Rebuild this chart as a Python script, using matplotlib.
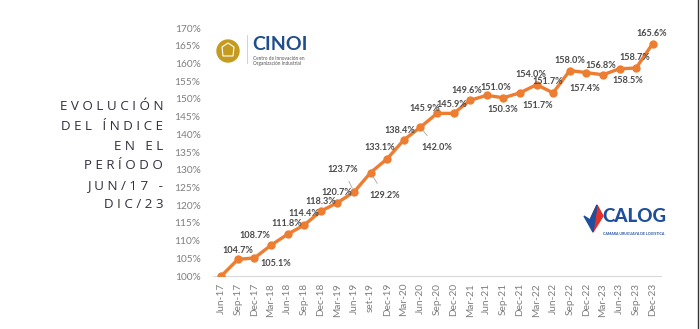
import matplotlib
matplotlib.use("Agg")
import matplotlib.pyplot as plt
from matplotlib.patches import Circle, Polygon
from matplotlib.lines import Line2D

# ---- data ----
periods = ["Jun-17", "Sep-17", "Dec-17", "Mar-18", "Jun-18", "Sep-18", "Dec-18",
           "Mar-19", "Jun-19", "set-19", "Dec-19", "Mar-20", "Jun-20", "Sep-20",
           "Dec-20", "Mar-21", "Jun-21", "Sep-21", "Dec-21", "Mar-22", "Jun-22",
           "Sep-22", "Dec-22", "Mar-23", "Jun-23", "Sep-23", "Dec-23"]
index_values = [100.0, 104.7, 105.1, 108.7, 111.8, 114.4, 118.3,
                120.7, 123.7, 129.2, 133.1, 138.4, 142.0, 145.9,
                145.9, 149.6, 151.0, 150.3, 151.7, 154.0, 151.7,
                158.0, 157.4, 156.8, 158.5, 158.7, 165.6]
y_ticks = list(range(100, 171, 5))
title_lines = ["EVOLUCIÓN", "DEL ÍNDICE", "EN EL", "PERÍODO", "JUN/17 -", "DIC/23"]

# label placement (pixel offsets from the point) and leader-line flags
label_offsets = [None, (0, 9), (21, -6), (-16, 10), (-1, 11), (0, 11), (0, 10),
                 (-1, 10), (-11, 23), (14, -23), (-7, 11), (-4, 9), (16, -20), (-12, 5),
                 (-2, 9), (-3, 10), (9, 8), (-1, -12), (18, -13), (-6, 10), (-5, 11),
                 (0, 10), (-2, -16), (-2, 9), (8, -12), (-1, 11), (-1, 10)]
leader = {8, 9, 12, 18, 24}

ORANGE = "#ED7D31"
W, H = 700, 329
fig = plt.figure(figsize=(7.0, 3.29), dpi=100)
fig.patch.set_facecolor("white")

left, right, bottom, top = 213, 661, 276, 28
ax = fig.add_axes([left / W, 1 - bottom / H, (right - left) / W, (bottom - top) / H])
x = list(range(len(periods)))
ax.plot(x, index_values, color=ORANGE, lw=2.4, marker="o", ms=5,
        mfc=ORANGE, mec=ORANGE, zorder=3, solid_capstyle="round")
ax.set_xlim(-0.5, len(periods) - 0.5)
ax.set_ylim(100, 170)
ax.set_yticks(y_ticks)
ax.set_yticklabels([f"{t}%" for t in y_ticks], family="Lato", fontsize=7.3, color="#7f7f7f")
ax.set_xticks(x)
ax.set_xticklabels(periods, rotation=90, family="Lato", fontsize=7.3, color="#7f7f7f")
ax.tick_params(axis="both", length=0)
ax.tick_params(axis="y", pad=9)
ax.tick_params(axis="x", pad=5)
for s in ["top", "right", "left"]:
    ax.spines[s].set_visible(False)
ax.spines["bottom"].set_color("#d9d9d9")
ax.spines["bottom"].set_linewidth(0.8)
ax.set_facecolor("none")

for i, (xv, v) in enumerate(zip(x, index_values)):
    off = label_offsets[i]
    if off is None:
        continue
    kw = {}
    if i in leader:
        kw["arrowprops"] = dict(arrowstyle="-", color="#a6a6a6", lw=0.6,
                                shrinkA=4, shrinkB=3)
    ax.annotate(f"{v:.1f}%", (xv, v), xytext=off, textcoords="offset pixels",
                ha="center", va="center", family="Lato", fontweight="bold",
                fontsize=6.6, color="#4a4a4a", zorder=4, **kw)

# ---- overlay in pixel coordinates for title, logos and border ----
ov = fig.add_axes([0, 0, 1, 1], zorder=-1)
ov.set_xlim(0, W)
ov.set_ylim(H, 0)
ov.axis("off")

for k, line in enumerate(title_lines):
    ov.text(163, 107 + k * 19.6, " ".join(line), ha="right", va="center",
            family="Open Sans", fontweight="medium", fontsize=9.6, color="#30303f")

# CINOI logo
ov.add_patch(Circle((228, 51), 11, color="#c49a1f"))
ov.add_patch(Polygon([(228, 43), (234, 47), (233, 56), (223, 56), (222, 47)],
                     closed=True, fill=False, ec="white", lw=0.8))
ov.add_line(Line2D([247, 247], [35, 63], color="#cccccc", lw=0.6))
ov.text(252, 44, "CINOI", ha="left", va="center", family="Lato",
        fontweight="bold", fontsize=14, color="#1f4e8c")
ov.text(253, 61, "Centro de Innovación en\nOrganización Industrial", ha="left",
        va="center", family="Lato", fontsize=3.4, color="#555555", linespacing=1.1)

# CALOG logo
ov.add_patch(Polygon([(597, 205), (603, 216), (593, 232), (590, 220)], closed=True,
                     color="#e0312b"))
ov.add_patch(Polygon([(597, 205), (590, 220), (584, 216), (593, 232)], closed=True,
                     color="#1f4e9c"))
ov.text(634, 217, "CALOG", ha="center", va="center", family="Lato",
        fontweight="black", fontsize=13.5, color="#1f4e9c")
ov.text(634, 234, "CAMARA URUGUAYA DE LOGISTICA", ha="center", va="center",
        family="Lato", fontweight="bold", fontsize=2.6, color="#1f4e9c")

# slide border on right
ov.add_line(Line2D([697.5, 697.5], [0, H], color="#333333", lw=1.0))

fig.savefig("out.png", dpi=100, facecolor="white")
